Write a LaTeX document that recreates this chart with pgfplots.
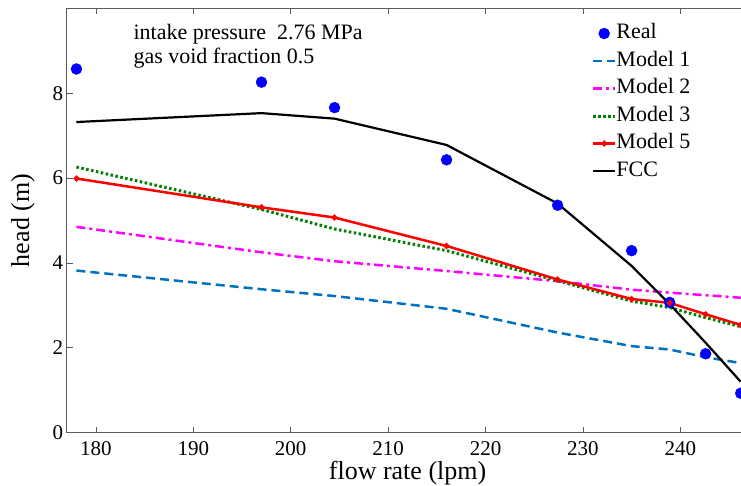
\documentclass[border=0pt]{standalone}
\usepackage{fontspec}
\setmainfont{Liberation Serif}
\usepackage{pgfplots}
\pgfplotsset{compat=1.18}
\definecolor{mblue}{RGB}{0,114,189}
\definecolor{mgreen}{RGB}{0,128,0}
\definecolor{mmag}{RGB}{255,0,255}
\definecolor{axgray}{RGB}{90,90,90}
\begin{document}
\begin{tikzpicture}
\useasboundingbox (-66.7pt,-52.3pt) rectangle (674.3pt,432.7pt);
\clip (-66.7pt,-52.3pt) rectangle (674.3pt,432.7pt);
\begin{axis}[
  at={(0pt,0pt)}, anchor=south west,
  scale only axis, width=681.8pt, height=424.4pt,
  xmin=177, xmax=247, ymin=0, ymax=10,
  xtick={180,190,...,240}, ytick={0,2,4,6,8},
  tick align=inside, major tick length=6pt,
  axis line style={axgray, line width=0.9pt},
  every tick/.style={axgray, line width=0.8pt},
  /pgf/number format/assume math mode=true,
  ticklabel style={font=\fontsize{21}{21}\selectfont},
  xticklabel style={inner sep=0pt, anchor=north, yshift=-8.5pt, text depth=0pt},
  yticklabel style={inner sep=0pt, anchor=east, xshift=-3.4pt},
  xlabel={flow rate (lpm)}, ylabel={head (m)},
  label style={font=\fontsize{26}{26}\selectfont},
  xlabel style={at={(rel axis cs:0.5,0)}, anchor=base, yshift=-47pt, inner sep=0pt},
  ylabel style={at={(axis description cs:-0.0641,0.5)}, anchor=center, inner sep=0pt},
  legend style={at={(axis cs:230.9,9.646)}, anchor=north west, draw=none, fill=none,
    font=\fontsize{22}{22}\selectfont, inner sep=0pt, row sep=7.5pt,
    nodes={inner sep=0pt, text height=15pt, text depth=5pt},
    /tikz/every even column/.append style={column sep=3.4pt}},
  legend cell align=left,
  legend image code/.code={\draw[mark repeat=2,mark phase=2,#1] plot coordinates {(0pt,0pt)(10.8pt,0pt)(21.6pt,0pt)};},
  clip=true,
]
\addplot[only marks, mark=*, mark size=5.5pt, color=blue] coordinates {
(178,8.57) (197,8.26) (204.5,7.66) (216,6.43) (227.4,5.36) (235,4.29) (238.9,3.07) (242.6,1.86) (246.2,0.93)};
\addlegendentry{Real}
\addplot[mblue, line width=2.5pt, dash pattern=on 9pt off 5pt] coordinates {
(178,3.82) (197,3.38) (204.5,3.22) (216,2.92) (227.4,2.36) (235,2.04) (238.9,1.96) (242.6,1.78) (246.2,1.64)};
\addlegendentry{Model 1}
\addplot[mmag, line width=2.5pt, dash pattern=on 9pt off 4pt on 3pt off 4pt] coordinates {
(178,4.85) (197,4.25) (204.5,4.04) (216,3.81) (227.4,3.57) (235,3.37) (238.9,3.30) (242.6,3.24) (246.2,3.18)};
\addlegendentry{Model 2}
\addplot[mgreen, line width=3pt, dash pattern=on 2.5pt off 2.5pt] coordinates {
(178,6.26) (197,5.26) (204.5,4.80) (216,4.29) (227.4,3.58) (235,3.10) (238.9,2.95) (242.6,2.71) (246.2,2.50)};
\addlegendentry{Model 3}
\addplot[red, line width=2.5pt, mark=*, mark size=1.6pt] coordinates {
(178,5.99) (197,5.31) (204.5,5.07) (216,4.40) (227.4,3.61) (235,3.15) (238.9,3.06) (242.6,2.79) (246.2,2.54)};
\addlegendentry{Model 5}
\addplot[black, line width=2.2pt] coordinates {
(178,7.32) (197,7.53) (204.5,7.40) (216,6.78) (227.4,5.40) (235,3.93) (238.9,3.03) (242.6,2.12) (246.2,1.20)};
\addlegendentry{FCC}
\node[anchor=base west, inner sep=0pt, font=\fontsize{22}{22}\selectfont] at (axis cs:183.84,9.27) {intake pressure\ \ 2.76 MPa};
\node[anchor=base west, inner sep=0pt, font=\fontsize{22}{22}\selectfont] at (axis cs:183.84,8.70) {gas void fraction 0.5};
\end{axis}
\end{tikzpicture}
\end{document}
